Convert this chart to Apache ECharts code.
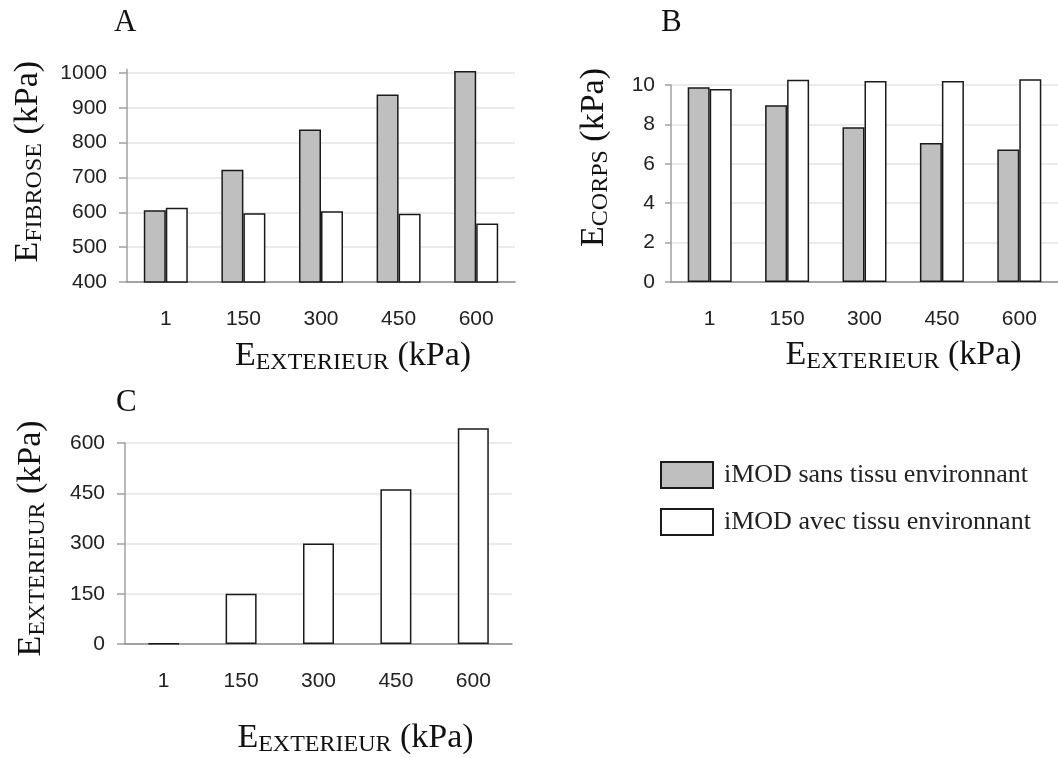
<!DOCTYPE html>
<html>
<head>
<meta charset="utf-8">
<script src="https://cdn.jsdelivr.net/npm/echarts@6/dist/echarts.min.js"></script>
<style>
  html, body { margin: 0; padding: 0; background: #fff; }
  #main { width: 1058px; height: 758px; }
</style>
</head>
<body>
<div id="main"></div>
<script>
// E exterieur (kPa), categories shared by the three panels
const categories = ['1', '150', '300', '450', '600'];
// A : E fibrose (kPa)
const fibroseSans = [606, 722, 838, 938, 1006];
const fibroseAvec = [613, 597, 603, 596, 568];
const fibroseTicks = [400, 500, 600, 700, 800, 900, 1000];
// B : E corps (kPa)
const corpsSans = [9.88, 8.97, 7.85, 7.05, 6.73];
const corpsAvec = [9.8, 10.27, 10.2, 10.2, 10.29];
const corpsTicks = [0, 2, 4, 6, 8, 10];
// C : E exterieur (kPa)
const exterieurC = [1, 150, 300, 462, 644];
const exterieurTicks = [0, 150, 300, 450, 600];

const nameSans = 'iMOD sans tissu environnant';
const nameAvec = 'iMOD avec tissu environnant';

const serif = '"Liberation Serif", "Times New Roman", serif';
const sans = '"Liberation Sans", Arial, sans-serif';

// axis title like E_FIBROSE (kPa), subscript in smaller caps
function axisName(sub) {
  return '{e|E}{s|' + sub + '}{e| (kPa)}';
}
const nameRich = {
  e: { fontFamily: serif, fontSize: 34, color: '#111', verticalAlign: 'bottom', padding: [0, 0, 2, 0] },
  s: { fontFamily: serif, fontSize: 24, color: '#111', verticalAlign: 'bottom' }
};

const grayStyle = { color: '#bfbfbf', borderColor: '#1a1a1a', borderWidth: 1.5 };
const whiteStyle = { color: '#ffffff', borderColor: '#1a1a1a', borderWidth: 1.5 };

function xAxisOf(gridIndex, padLeft, gap) {
  return {
    type: 'category',
    gridIndex: gridIndex,
    data: categories,
    axisTick: { show: false },
    axisLine: { lineStyle: { color: '#8a8a8a', width: 1.5 } },
    axisLabel: { margin: 27, fontFamily: sans, fontSize: 21, color: '#222' },
    name: axisName('EXTERIEUR'),
    nameLocation: 'middle',
    nameGap: gap,
    nameMoveOverlap: false,
    nameTextStyle: { rich: nameRich, padding: [0, 0, 0, padLeft] }
  };
}

// the tick lists drive ticks, labels and split lines
function yAxisOf(gridIndex, min, max, ticks, sub, gap, padLeft, labelMargin, tickLen) {
  return {
    type: 'value',
    gridIndex: gridIndex,
    min: min,
    max: max,
    interval: ticks[1] - ticks[0],
    axisTick: { show: true, length: tickLen, customValues: ticks, lineStyle: { color: '#a0a0a0', width: 1.5 } },
    axisLine: { show: true, lineStyle: { color: '#a0a0a0', width: 1.5 } },
    splitLine: { lineStyle: { color: '#e4e4e4', width: 1.5 } },
    axisLabel: {
      customValues: ticks,
      margin: labelMargin,
      fontFamily: sans,
      fontSize: 21,
      color: '#222',
      formatter: function (v) { return String(v); }
    },
    name: axisName(sub),
    nameLocation: 'middle',
    nameGap: gap,
    nameMoveOverlap: false,
    nameTextStyle: { rich: nameRich, padding: [0, 0, 0, padLeft] }
  };
}

const chart = echarts.init(document.getElementById('main'));

const option = {
  backgroundColor: '#ffffff',
  animation: false,
  title: [
    { text: 'A', left: 114, top: 7, padding: 0, textStyle: { fontFamily: serif, fontSize: 31, fontWeight: 'normal', color: '#111' } },
    { text: 'B', left: 661, top: 7, padding: 0, textStyle: { fontFamily: serif, fontSize: 31, fontWeight: 'normal', color: '#111' } },
    { text: 'C', left: 116, top: 387, padding: 0, textStyle: { fontFamily: serif, fontSize: 31, fontWeight: 'normal', color: '#111' } }
  ],
  legend: {
    data: [nameSans, nameAvec],
    orient: 'vertical',
    left: 660,
    top: 461,
    padding: 0,
    itemWidth: 52,
    itemHeight: 26,
    itemGap: 19,
    icon: 'rect',
    itemStyle: { borderColor: '#1a1a1a', borderWidth: 2 },
    textStyle: { fontFamily: serif, fontSize: 26, color: '#222', padding: [0, 0, 0, 6] }
  },
  grid: [
    { left: 127, top: 69.5, width: 388, height: 212.5 },
    { left: 671, top: 85, width: 390, height: 197 },
    { left: 125, top: 443, width: 387, height: 203 }
  ],
  xAxis: [
    xAxisOf(0, 64, 57),
    xAxisOf(1, 78, 56),
    xAxisOf(2, 74, 77)
  ],
  yAxis: [
    yAxisOf(0, 400, 1010, fibroseTicks, 'FIBROSE', 80, 28, 20, 8),
    yAxisOf(1, 0, 10, corpsTicks, 'CORPS', 58, 52, 16, 6),
    yAxisOf(2, 0, 600, exterieurTicks, 'EXTERIEUR', 75, 10, 20, 8)
  ],
  series: [
    { name: nameSans, type: 'bar', xAxisIndex: 0, yAxisIndex: 0, data: fibroseSans, barWidth: 22, barGap: '0%', clip: true, itemStyle: grayStyle },
    { name: nameAvec, type: 'bar', xAxisIndex: 0, yAxisIndex: 0, data: fibroseAvec, barWidth: 22, barGap: '0%', clip: true, itemStyle: whiteStyle },
    { name: nameSans, type: 'bar', xAxisIndex: 1, yAxisIndex: 1, data: corpsSans, barWidth: 22, barGap: '0%', clip: false, itemStyle: grayStyle },
    { name: nameAvec, type: 'bar', xAxisIndex: 1, yAxisIndex: 1, data: corpsAvec, barWidth: 22, barGap: '0%', clip: false, itemStyle: whiteStyle },
    { name: 'E exterieur', type: 'bar', xAxisIndex: 2, yAxisIndex: 2, data: exterieurC, barWidth: 31, clip: false, itemStyle: whiteStyle }
  ]
};

chart.setOption(option);
</script>
</body>
</html>
